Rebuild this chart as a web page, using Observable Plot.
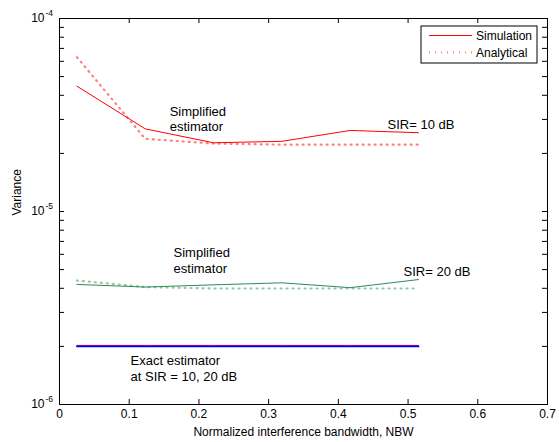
<!DOCTYPE html>
<html><head><meta charset="utf-8">
<script src="https://cdn.jsdelivr.net/npm/d3@7"></script>
<script src="https://cdn.jsdelivr.net/npm/@observablehq/plot@0.6"></script>
<style>body{margin:0;background:#fff} #chart{width:559px;height:442px}</style>
</head><body><div id="chart"></div>
<script>
// ---- data ----
const nbw = [0.025, 0.123, 0.221, 0.319, 0.417, 0.515];
const sim10 = [4.46e-5, 2.68e-5, 2.27e-5, 2.31e-5, 2.63e-5, 2.56e-5];
const ana10 = [6.3e-5, 2.38e-5, 2.25e-5, 2.22e-5, 2.22e-5, 2.22e-5];
const sim20 = [4.19e-6, 4.06e-6, 4.17e-6, 4.27e-6, 4.03e-6, 4.44e-6];
const ana20 = [4.39e-6, 4.06e-6, 3.99e-6, 3.99e-6, 3.99e-6, 3.99e-6];
const exactSim = [2e-6, 2e-6, 2e-6, 2e-6, 2e-6, 2e-6];
const exactAna = [2e-6, 2e-6, 2e-6, 2e-6, 2e-6, 2e-6];
const xTicks = [0, 0.1, 0.2, 0.3, 0.4, 0.5, 0.6, 0.7];
const yMajor = [1e-6, 1e-5, 1e-4];
const yMinor = [2e-6, 3e-6, 4e-6, 5e-6, 6e-6, 7e-6, 8e-6, 9e-6,
                2e-5, 3e-5, 4e-5, 5e-5, 6e-5, 7e-5, 8e-5, 9e-5];
const notes = [
  {text: "Simplified", x: 0.158, y: 3.27e-5},
  {text: "estimator", x: 0.158, y: 2.76e-5},
  {text: "SIR= 10 dB", x: 0.4706, y: 2.82e-5},
  {text: "Simplified", x: 0.1636, y: 6.10e-6},
  {text: "estimator", x: 0.1636, y: 5.07e-6},
  {text: "SIR= 20 dB", x: 0.4935, y: 4.86e-6},
  {text: "Exact estimator", x: 0.1019, y: 1.69e-6},
  {text: "at SIR = 10, 20 dB", x: 0.1019, y: 1.396e-6}
];
const legendItems = ["Simulation", "Analytical"];

const rows = (ys) => nbw.map((x, i) => ({x, y: ys[i]}));

// ---- layout ----
const W = 559, H = 442, mL = 59, mR = 12, mT = 18, mB = 38;
const fw = W - mL - mR, fh = H - mT - mB, tk = 5;
const RED = "#ff0000", GREEN = "#2e8b57", BLUE = "#0000ff";
const dotted = {strokeDasharray: "1,5", strokeWidth: 2.2, strokeOpacity: 0.5};

const plot = Plot.plot({
  width: W, height: H,
  marginLeft: mL, marginRight: mR, marginTop: mT, marginBottom: mB,
  style: {fontFamily: "'Liberation Sans', Arial, sans-serif", fontSize: "12px", color: "black", background: "white"},
  x: {domain: [0, 0.7], label: null},
  y: {type: "log", domain: [1e-6, 1e-4], axis: null, label: null},
  marks: [
    // data
    Plot.line(rows(ana10), {x: "x", y: "y", stroke: RED, ...dotted}),
    Plot.line(rows(sim10), {x: "x", y: "y", stroke: RED, strokeWidth: 1}),
    Plot.line(rows(ana20), {x: "x", y: "y", stroke: GREEN, ...dotted}),
    Plot.line(rows(sim20), {x: "x", y: "y", stroke: GREEN, strokeWidth: 1}),
    Plot.line(rows(exactSim), {x: "x", y: "y", stroke: RED, strokeWidth: 1, dy: -1}),
    Plot.line(rows(exactAna), {x: "x", y: "y", stroke: BLUE, strokeWidth: 1.7}),
    // annotations
    Plot.text(notes, {x: "x", y: "y", text: "text", textAnchor: "start", fontSize: 13}),
    // frame & inward ticks
    Plot.frame({stroke: "black", strokeWidth: 1}),
    Plot.ruleX(xTicks, {x: d => d, insetTop: fh - tk, stroke: "black"}),
    Plot.ruleX(xTicks, {x: d => d, insetBottom: fh - tk, stroke: "black"}),
    Plot.ruleY(yMajor.concat(yMinor), {y: d => d, insetRight: fw - tk, stroke: "black"}),
    Plot.ruleY(yMajor.concat(yMinor), {y: d => d, insetLeft: fw - tk, stroke: "black"}),
    // tick labels
    Plot.axisX({ticks: xTicks, tickSize: 0, tickPadding: 5, label: null, tickFormat: d => String(d)}),
    Plot.text(yMajor, {y: d => d, frameAnchor: "left", text: () => "10", textAnchor: "end", dx: -15}),
    Plot.text(yMajor, {y: d => d, frameAnchor: "left", text: d => "-" + Math.round(-Math.log10(d)),
      textAnchor: "start", dx: -14, dy: -5, fontSize: 8.5}),
    // axis titles
    Plot.text(["Normalized interference bandwidth, NBW"], {text: d => d, frameAnchor: "bottom", lineAnchor: "top", dy: 23}),
    Plot.text(["Variance"], {text: d => d, frameAnchor: "left", rotate: -90, dx: -42, dy: 4})
  ]
});
document.getElementById("chart").appendChild(plot);

// ---- legend (boxed, top-right inside the axes) ----
const svg = d3.select(plot);
const lg = svg.append("g")
  .attr("font-family", "'Liberation Sans', Arial, sans-serif")
  .attr("font-size", 12)
  .attr("text-anchor", "start");
lg.append("rect").attr("x", 421).attr("y", 26).attr("width", 116).attr("height", 37)
  .attr("fill", "white").attr("stroke", "black").attr("stroke-width", 1);
legendItems.forEach((label, i) => {
  const y = 35.5 + i * 17;
  const ln = lg.append("line").attr("x1", 429).attr("x2", 472).attr("y1", y).attr("y2", y)
    .attr("stroke", RED).attr("stroke-width", 1);
  if (i === 1) ln.attr("stroke-dasharray", dotted.strokeDasharray).attr("stroke-width", dotted.strokeWidth).attr("stroke-opacity", dotted.strokeOpacity);
  lg.append("text").attr("x", 476).attr("y", y).attr("dy", "0.35em").attr("text-anchor", "start").text(label);
});
</script>
</body></html>
